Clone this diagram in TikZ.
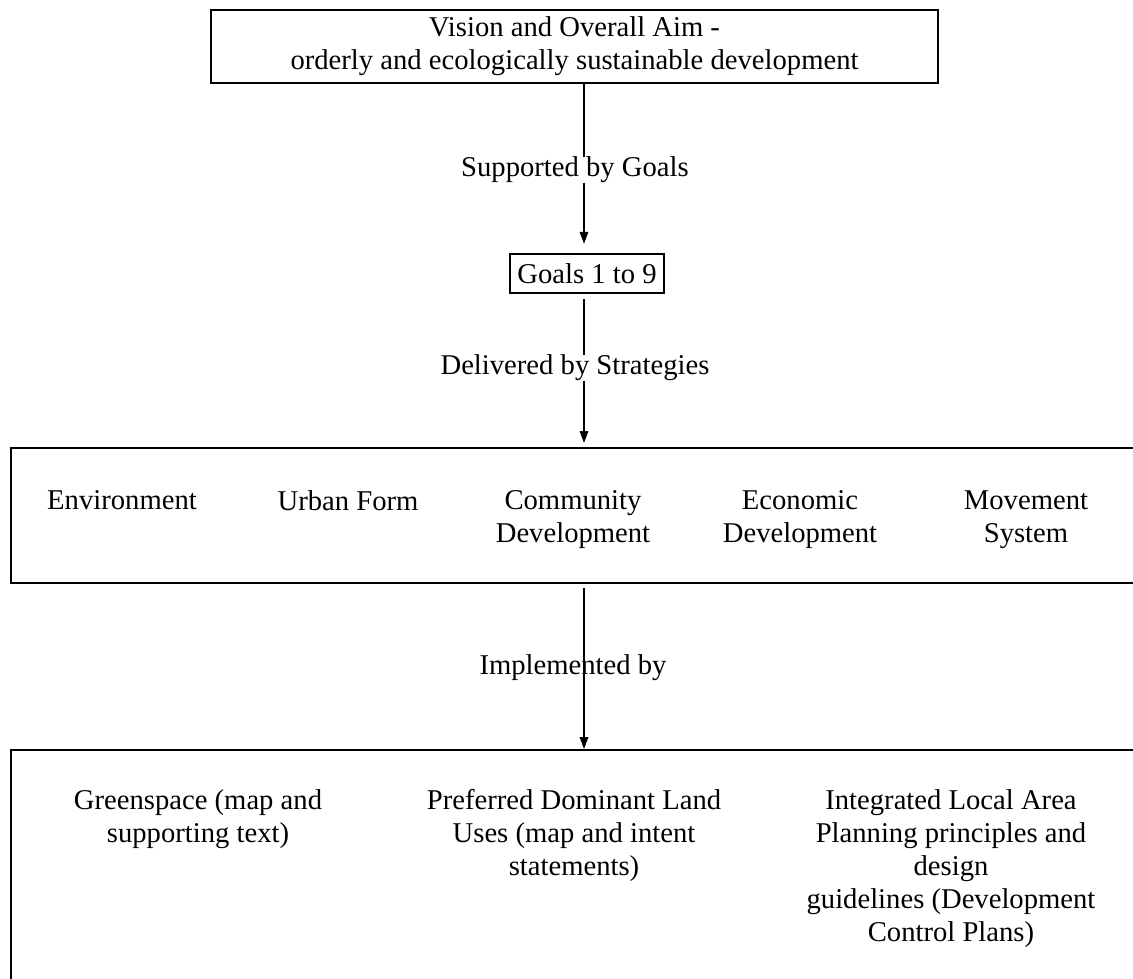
\documentclass[tikz,border=0pt]{standalone}
\usepackage{fontspec}
\setmainfont{Liberation Serif}
\usetikzlibrary{arrows.meta,positioning}

\begin{document}
\begin{tikzpicture}[
    font=\fontsize{16.3}{18.8}\selectfont,
    box/.style={rectangle, draw=black, line width=1.3pt, inner sep=0pt},
    lbl/.style={inner sep=0pt, align=center},
    conn/.style={line width=0.9pt, draw=black},
    arr/.style={conn, -{Triangle[length=0.24cm, width=0.17cm]}}
]

    % Page frame (the two lower boxes run off the right and bottom edges)
    \useasboundingbox (0,0) rectangle (22.66,-19.58);
    \clip (0,0) rectangle (22.66,-19.58);
    \coordinate (spine) at (11.68,0);

    % Vision box
    \node [box, align=center, minimum width=14.54cm, minimum height=1.46cm] (vision) at (11.49,-0.93) {
        Vision and Overall Aim -\\
        orderly and ecologically sustainable development
    };

    \node [lbl] (supp) at (11.5,-3.4) {Supported by Goals};

    % Goals box
    \node [box, minimum width=3.08cm, minimum height=0.78cm] (goals) at (11.74,-5.47) {Goals 1 to 9};

    \node [lbl] (deliv) at (11.5,-7.36) {Delivered by Strategies};

    % Strategies box
    \node [box, anchor=north west, minimum width=24cm, minimum height=2.7cm] (strat) at (0.2,-8.94) {};
    \node [lbl, anchor=north] (env) at (2.44,-9.8) {Environment};
    \node [lbl, anchor=north] (urban) at (6.96,-9.8) {Urban Form};
    \node [lbl, anchor=north] (commdev) at (11.46,-9.8) {Community\\Development};
    \node [lbl, anchor=north] (econdev) at (16.0,-9.8) {Economic\\Development};
    \node [lbl, anchor=north] (movesys) at (20.52,-9.8) {Movement\\System};

    \node [lbl] (implby) at (11.46,-13.36) {Implemented by};

    % Implementation box
    \node [box, anchor=north west, minimum width=24cm, minimum height=6cm] (impl) at (0.2,-14.98) {};
    \node [lbl, anchor=north] (green) at (3.96,-15.78) {Greenspace (map and\\supporting text)};
    \node [lbl, anchor=north] (landuse) at (11.48,-15.78) {Preferred Dominant Land\\Uses (map and intent\\statements)};
    \node [lbl, anchor=north] (ilap) at (19.02,-15.78) {Integrated Local Area\\Planning principles and\\design\\guidelines (Development\\Control Plans)};

    % Connectors down the spine
    \draw [conn] (vision.south -| spine) -- (supp.north -| spine);
    \draw [arr, shorten >=0.18cm] (supp.south -| spine) -- (goals.north -| spine);
    \draw [conn, shorten <=0.1cm] (goals.south -| spine) -- (deliv.north -| spine);
    \draw [arr, shorten >=0.08cm] (deliv.south -| spine) -- (strat.north -| spine);
    \draw [arr, shorten <=0.08cm] (strat.south -| spine) -- (impl.north -| spine);

\end{tikzpicture}
\end{document}
